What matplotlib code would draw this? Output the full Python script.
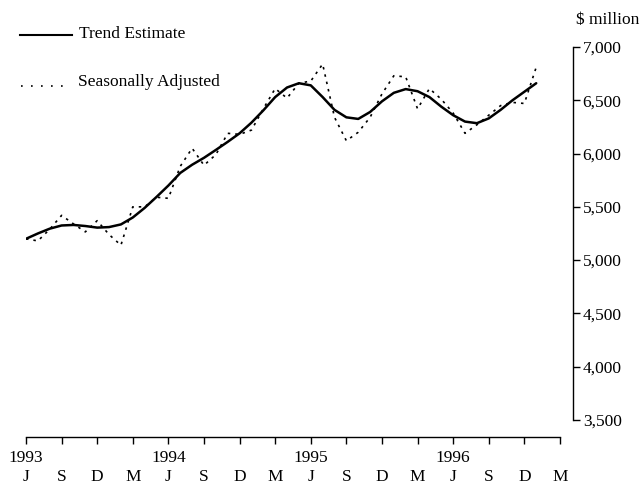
import matplotlib
matplotlib.use("Agg")
import matplotlib.pyplot as plt
from matplotlib.lines import Line2D
from matplotlib.transforms import blended_transform_factory

plt.rcParams['font.family'] = ['Liberation Serif', 'DejaVu Serif']

# Monthly index 0 = June 1993 ... 43 = January 1997
months = list(range(44))
trend = [5200, 5250, 5295, 5325, 5330, 5320, 5305, 5310, 5335, 5400,
         5490, 5593, 5700, 5818, 5895, 5960, 6034, 6110, 6190, 6290,
         6405, 6530, 6620, 6660, 6640, 6530, 6410, 6340, 6325, 6390,
         6490, 6570, 6605, 6585, 6530, 6440, 6360, 6300, 6285, 6330,
         6410, 6500, 6580, 6660]
seas_adj = [5200, 5180, 5290, 5420, 5340, 5265, 5370, 5240, 5140, 5500,
            5500, 5590, 5580, 5880, 6050, 5890, 5990, 6190, 6180, 6220,
            6420, 6610, 6520, 6660, 6680, 6840, 6340, 6120, 6200, 6340,
            6560, 6730, 6720, 6420, 6610, 6510, 6380, 6190, 6270, 6360,
            6450, 6480, 6470, 6810]

tick_pos = list(range(0, 46, 3))
tick_labels = ['J', 'S', 'D', 'M'] * 4
year_pos = [0, 12, 24, 36]
year_labels = ['1993', '1994', '1995', '1996']
y_ticks = [3500, 4000, 4500, 5000, 5500, 6000, 6500, 7000]
y_tick_labels = ['3,500', '4,000', '4,500', '5,000', '5,500', '6,000', '6,500', '7,000']

W, H = 643, 490
fig = plt.figure(figsize=(W / 100, H / 100), dpi=100)
ax = fig.add_axes([26 / W, 53 / H, (573 - 26) / W, (437 - 47) / H])

ax.plot(months, trend, color='black', lw=1.8, solid_capstyle='round',
        solid_joinstyle='round')
ax.plot(months, seas_adj, color='black', lw=1.2, linestyle=(0, (1.5, 3)))

ax.set_xlim(0, 46.1)
ax.set_ylim(3340, 7000)

for s in ['left', 'top']:
    ax.spines[s].set_visible(False)
ax.spines['bottom'].set_bounds(0, 45)
ax.spines['right'].set_bounds(3500, 7000)
ax.spines['bottom'].set_linewidth(1.0)
ax.spines['right'].set_linewidth(1.0)

FS = 12.5
ax.set_xticks(tick_pos)
ax.set_xticklabels(tick_labels, fontsize=FS)
ax.tick_params(axis='x', direction='out', length=5, width=1.0, pad=18)

ax.yaxis.tick_right()
ax.set_yticks(y_ticks)
ax.set_yticklabels(y_tick_labels, fontsize=FS)
ax.tick_params(axis='y', direction='out', length=5, width=1.0, pad=2)

trans = blended_transform_factory(ax.transData, ax.transAxes)
for p, lab in zip(year_pos, year_labels):
    ax.text(p, -0.053, lab, transform=trans, ha='center', va='center', fontsize=FS)

fig.text(576 / W, 1 - 20 / H, '$ million', ha='left', va='center', fontsize=FS)

# Legend
fig.add_artist(Line2D([20 / W, 72 / W], [1 - 35 / H] * 2, color='black', lw=1.5))
fig.text(79 / W, 1 - 34 / H, 'Trend Estimate', ha='left', va='center', fontsize=FS)
fig.add_artist(Line2D([21 / W, 68 / W], [1 - 86 / H] * 2, color='black', lw=1.2,
                      linestyle=(0, (1, 5))))
fig.text(78 / W, 1 - 82 / H, 'Seasonally Adjusted', ha='left', va='center', fontsize=FS)

fig.savefig('out.png', dpi=100)
